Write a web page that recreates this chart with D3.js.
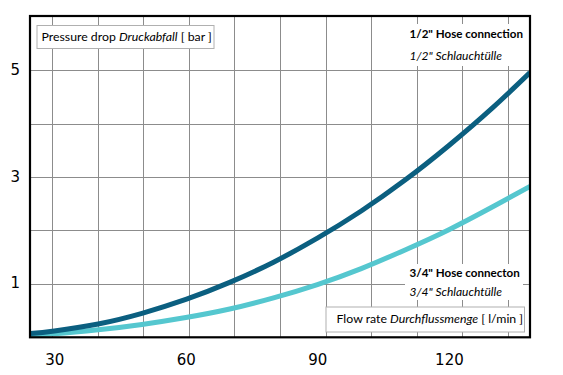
<!DOCTYPE html>
<html>
<head>
<meta charset="utf-8">
<script src="https://cdn.jsdelivr.net/npm/d3@7/dist/d3.min.js"></script>
<style>
  html, body { margin: 0; padding: 0; background: #fff; }
  svg { display: block; }
</style>
</head>
<body>
<svg id="chart" width="563" height="375"></svg>
<script>
// ---- data ----
const flow = [24.5, 30, 40, 50, 60, 70, 80, 90, 100, 110, 120, 130, 138.5];
const halfInch = [0.07, 0.12, 0.25, 0.45, 0.71, 1.03, 1.41, 1.86, 2.37, 2.95, 3.60, 4.31, 4.97];
const threeQuarter = [0.04, 0.065, 0.14, 0.24, 0.37, 0.53, 0.74, 0.99, 1.29, 1.64, 2.02, 2.45, 2.83];
const xTickLabels = [30, 60, 90, 120];
const yTickLabels = [1, 3, 5];
const xGrid = [29.55, 39.97, 50.35, 60.73, 71.16, 81.56, 91.99, 102.37, 112.75, 123.18, 133.58];
const yGrid = [1, 2, 3, 4, 5];

const svg = d3.select("#chart");
const L = 30, R = 530, T = 16, B = 337.3;

const x = d3.scaleLinear().domain([24.45, 138.5]).range([L, R]);
const y = d3.scaleLinear().domain([0, 6.03]).range([B, T]);

// grid
const grid = svg.append("g").attr("stroke", "#8c8c8c").attr("stroke-width", 1).attr("shape-rendering", "crispEdges");
grid.selectAll("line.v").data(xGrid).join("line").attr("class", "v")
  .attr("x1", d => x(d)).attr("x2", d => x(d)).attr("y1", T).attr("y2", B);
grid.selectAll("line.h").data(yGrid).join("line").attr("class", "h")
  .attr("x1", L).attr("x2", R).attr("y1", d => y(d)).attr("y2", d => y(d));

// clip
svg.append("clipPath").attr("id", "clip").append("rect")
  .attr("x", L).attr("y", T).attr("width", R - L).attr("height", B - T);

const line = (vals) => d3.line().x((d, i) => x(flow[i])).y(d => y(d)).curve(d3.curveNatural)(vals);

const curves = svg.append("g").attr("clip-path", "url(#clip)");
curves.append("path").attr("d", line(threeQuarter)).attr("fill", "none")
  .attr("stroke", "#55c7cf").attr("stroke-width", 5);
curves.append("path").attr("d", line(halfInch)).attr("fill", "none")
  .attr("stroke", "#0b5f80").attr("stroke-width", 5);

// frame
svg.append("rect").attr("x", L).attr("y", T).attr("width", R - L).attr("height", B - T)
  .attr("fill", "none").attr("stroke", "#000").attr("stroke-width", 2.2);

// axes labels
const axisFont = "DejaVu Sans, Verdana, sans-serif";
const xAxis = d3.axisBottom(x).tickValues(xTickLabels).tickSize(0).tickPadding(0).tickFormat(d3.format("d"));
const gx = svg.append("g").attr("transform", `translate(0,${B})`).call(xAxis);
gx.select(".domain").remove();
gx.selectAll("text").attr("font-family", axisFont).attr("font-size", 15).attr("fill", "#000")
  .attr("dy", null).attr("y", 28);

const yAxis = d3.axisLeft(y).tickValues(yTickLabels).tickSize(0).tickPadding(0).tickFormat(d3.format("d"));
const gy = svg.append("g").attr("transform", `translate(${L - 10},0)`).call(yAxis);
gy.select(".domain").remove();
gy.selectAll("text").attr("font-family", axisFont).attr("font-size", 15).attr("fill", "#000")
  .attr("dy", "0.25em");

// text boxes
const lblFont = "Lato, 'Open Sans', sans-serif";
function boxLabel(bx, by, bw, bh, tx, ty, parts) {
  svg.append("rect").attr("x", bx + 0.5).attr("y", by + 0.5).attr("width", bw).attr("height", bh)
    .attr("fill", "#fff").attr("stroke", "#b0b0b0").attr("stroke-width", 1);
  const t = svg.append("text").attr("x", tx).attr("y", ty).attr("font-family", lblFont)
    .attr("font-size", 12.3).attr("fill", "#000");
  parts.forEach(p => t.append("tspan").text(p[0]).attr("font-style", p[1] ? "italic" : "normal"));
}
boxLabel(36.5, 25, 177, 23, 41.5, 40.5, [["Pressure drop ", false], ["Druckabfall", true], [" [ bar ]", false]]);
boxLabel(325.5, 306.5, 198.5, 25, 336.5, 323, [["Flow rate ", false], ["Durchflussmenge", true], [" [ l/min ]", false]]);

// legends
function legend(bx, by, bw, bh, l1, l2, y1, y2) {
  svg.append("rect").attr("x", bx).attr("y", by).attr("width", bw).attr("height", bh).attr("fill", "#fff");
  svg.append("text").attr("x", 409.5).attr("y", y1).attr("font-family", lblFont).attr("font-size", 11.6)
    .attr("font-weight", "bold").attr("fill", "#000").text(l1);
  svg.append("text").attr("x", 409.5).attr("y", y2).attr("font-family", lblFont).attr("font-size", 12)
    .attr("font-style", "italic").attr("fill", "#000").text(l2);
}
legend(405, 24, 118, 42, "1/2\" Hose connection", "1/2\" Schlauchtülle", 37.5, 59.5);
legend(405, 264, 118, 36, "3/4\" Hose connecton", "3/4\" Schlauchtülle", 276.5, 295.5);
</script>
</body>
</html>
